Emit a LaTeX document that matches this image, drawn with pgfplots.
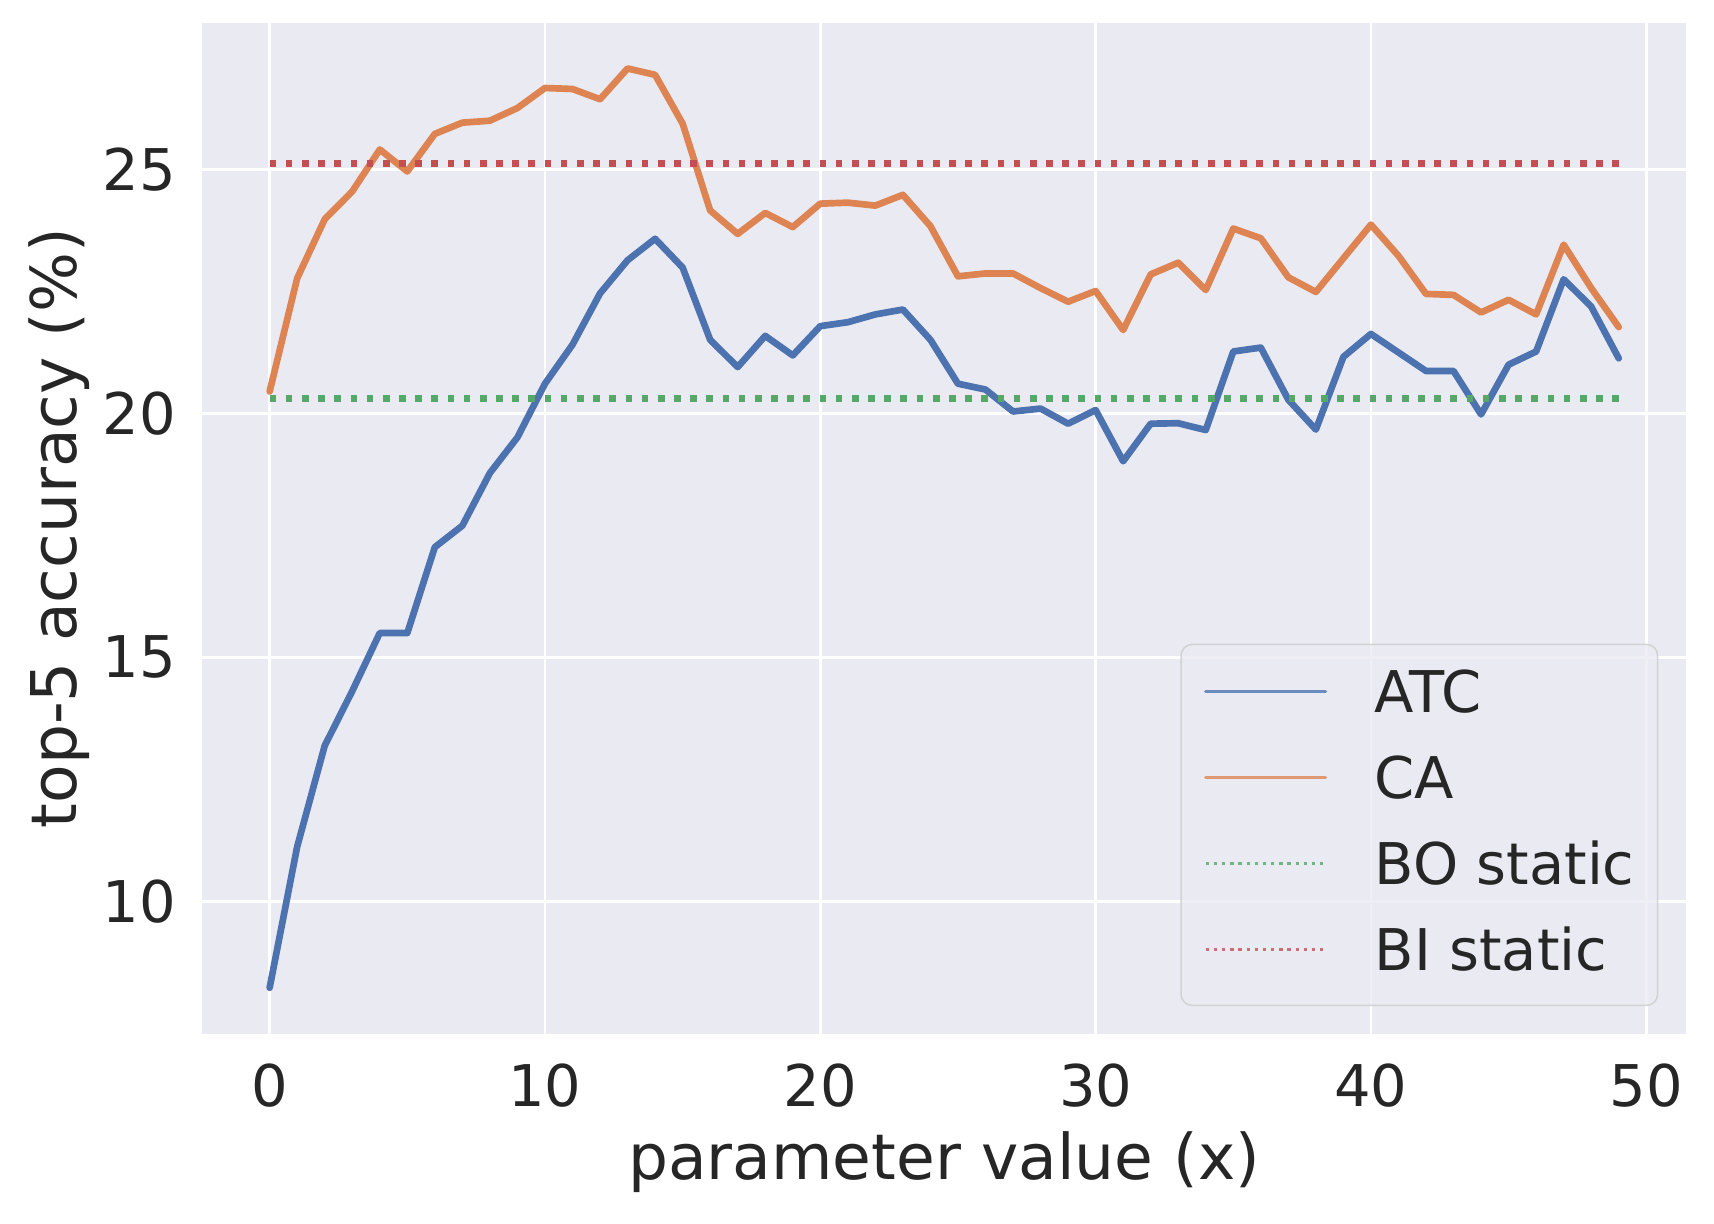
\documentclass[border=0pt]{standalone}
\usepackage{pgfplots}
\pgfplotsset{compat=1.18}
\usepackage{fontspec}
\setmainfont{DejaVu Sans}
\definecolor{bgc}{HTML}{EAEAF2}
\definecolor{txt}{HTML}{262626}
\definecolor{cblue}{HTML}{4C72B0}
\definecolor{corange}{HTML}{DD8452}
\definecolor{cgreen}{HTML}{55A868}
\definecolor{cred}{HTML}{C44E52}
\begin{document}
\begin{tikzpicture}
\begin{axis}[
  scale only axis, width=400pt, height=272.5pt,
  xmin=-2.45, xmax=51.45, ymin=7.29, ymax=28.01,
  xtick={0,10,20,30,40,50}, ytick={10,15,20,25},
  major tick length=0pt,
  axis line style={draw=none},
  axis background/.style={fill=bgc},
  grid=major, major grid style={white, line width=0.75pt},
  tick label style={font=\fontsize{15.5}{18}\selectfont, text=txt},
  /pgf/number format/assume math mode=true,
  xticklabel style={yshift=-4.6pt},
  yticklabel style={xshift=-3.6pt},
  every axis x label/.style={at={([yshift=-39.2pt]axis description cs:0.5,0)}, anchor=base, font=\fontsize{17}{20}\selectfont, text=txt},
  every axis y label/.style={at={([xshift=-33.9pt]axis description cs:0,0.5)}, rotate=90, anchor=base, font=\fontsize{17}{20}\selectfont, text=txt},
  xlabel={parameter value (x)},
  ylabel={top-5 accuracy (\%)},
  legend style={at={(1,0)}, anchor=south east, xshift=-7.5pt, yshift=7.4pt,
    draw=black!20, rounded corners=3pt, fill=bgc, fill opacity=0.8, draw opacity=0.8, text opacity=1,
    inner xsep=6.2pt, inner ysep=7.0pt,
    nodes={inner sep=0pt, text height=11.3pt, text depth=2.4pt},
    column sep=12.8pt, row sep=9.5pt,
    font=\fontsize{15.5}{18}\selectfont, text=txt},
  legend cell align=left,
]
\addplot[cblue, line width=1.8pt, line cap=round, line join=round,
  legend image code/.code={\draw[cblue, line width=0.9pt, line cap=round] (0pt,1.2pt) -- (32.3pt,1.2pt);}]
  table {
x y
0 8.23
1 11.12
2 13.19
3 14.31
4 15.50
5 15.50
6 17.26
7 17.70
8 18.78
9 19.51
10 20.61
11 21.41
12 22.46
13 23.14
14 23.58
15 22.99
16 21.51
17 20.95
18 21.59
19 21.19
20 21.79
21 21.87
22 22.03
23 22.13
24 21.51
25 20.61
26 20.49
27 20.04
28 20.10
29 19.79
30 20.07
31 19.02
32 19.79
33 19.80
34 19.66
35 21.27
36 21.35
37 20.28
38 19.67
39 21.16
40 21.63
41 21.25
42 20.87
43 20.87
44 19.98
45 21.00
46 21.27
47 22.75
48 22.19
49 21.13
};
\addlegendentry{ATC}
\addplot[corange, line width=1.8pt, line cap=round, line join=round,
  legend image code/.code={\draw[corange, line width=0.9pt, line cap=round] (0pt,1.2pt) -- (32.3pt,1.2pt);}]
  table {
x y
0 20.45
1 22.77
2 23.98
3 24.55
4 25.41
5 24.96
6 25.73
7 25.96
8 26.00
9 26.26
10 26.67
11 26.65
12 26.44
13 27.07
14 26.94
15 25.94
16 24.16
17 23.68
18 24.11
19 23.82
20 24.30
21 24.32
22 24.26
23 24.48
24 23.84
25 22.81
26 22.87
27 22.87
28 22.57
29 22.29
30 22.51
31 21.71
32 22.85
33 23.09
34 22.53
35 23.79
36 23.59
37 22.79
38 22.49
39 23.18
40 23.87
41 23.23
42 22.45
43 22.43
44 22.07
45 22.33
46 22.03
47 23.46
48 22.57
49 21.77
};
\addlegendentry{CA}
\addplot[cgreen, line width=1.8pt, dash pattern=on 1.8pt off 2.56pt,
  legend image code/.code={\draw[cgreen, line width=0.9pt, dash pattern=on 0.9pt off 1.3pt] (0pt,1.2pt) -- (32.3pt,1.2pt);}]
  coordinates {(0,20.30) (49,20.30)};
\addlegendentry{BO static}
\addplot[cred, line width=1.8pt, dash pattern=on 1.8pt off 2.56pt,
  legend image code/.code={\draw[cred, line width=0.9pt, dash pattern=on 0.9pt off 1.3pt] (0pt,1.2pt) -- (32.3pt,1.2pt);}]
  coordinates {(0,25.12) (49,25.12)};
\addlegendentry{BI static}
\end{axis}
\pgfresetboundingbox
\path ([shift={(-54.5pt,-51.3pt)}]current axis.south west) rectangle ([shift={(7.5pt,6.1pt)}]current axis.north east);
\end{tikzpicture}
\end{document}
